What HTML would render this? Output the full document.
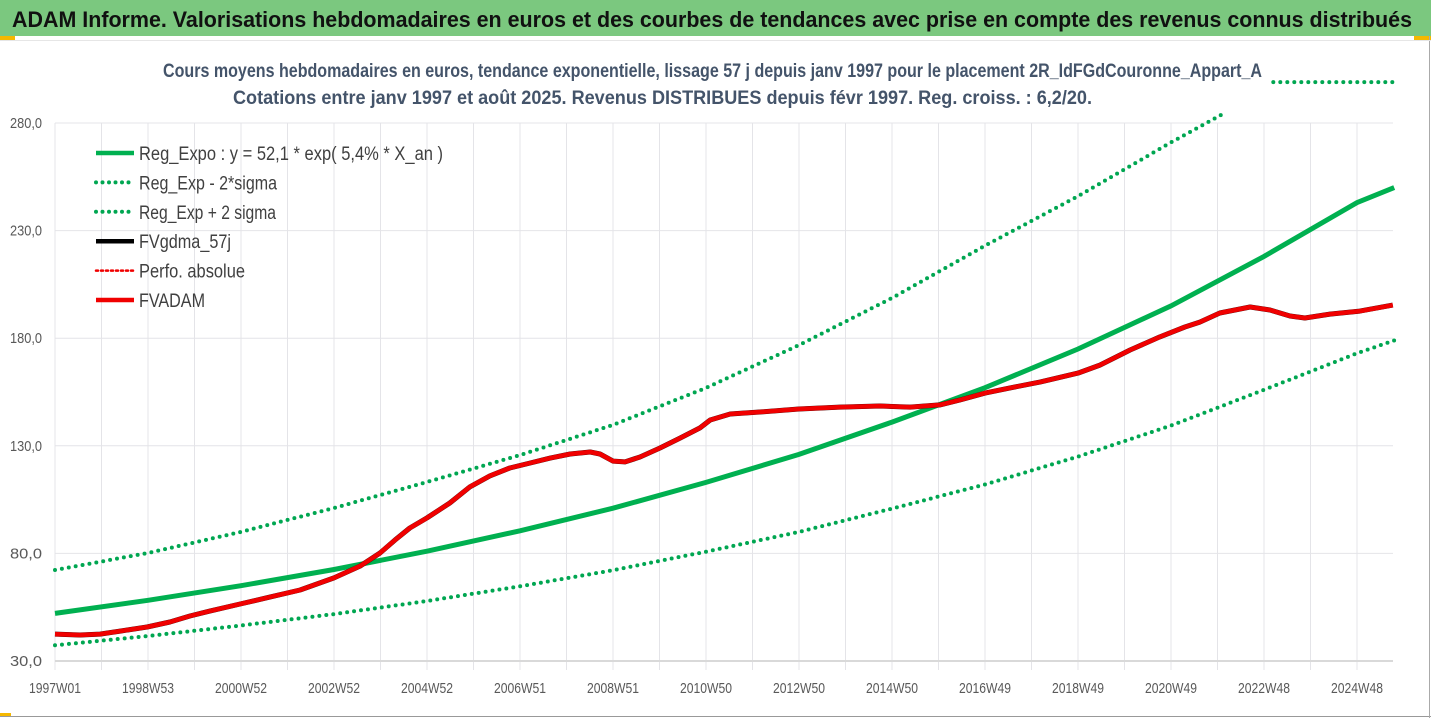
<!DOCTYPE html>
<html><head><meta charset="utf-8"><style>
body{margin:0;background:#fff;}
svg{display:block;font-family:"Liberation Sans Narrow","Liberation Sans",sans-serif;}
</style></head><body>
<svg id="chart" width="1431" height="718" viewBox="0 0 1431 718">
<rect x="0" y="0" width="1431" height="718" fill="#fff"/>
<rect x="0" y="0" width="1431" height="36" fill="#7bc87f"/>
<rect x="0" y="36" width="15" height="4" fill="#f5b800"/>
<rect x="1414" y="36" width="17" height="4" fill="#f5b800"/>
<rect x="0" y="713" width="11" height="4" fill="#f5b800"/>
<line x1="0" y1="716.5" x2="1431" y2="716.5" stroke="#999"/>
<line x1="1429.5" y1="36" x2="1429.5" y2="718" stroke="#aaa"/>
<line x1="0" y1="40.5" x2="1431" y2="40.5" stroke="#e6e6e6"/>
<text x="12" y="27" font-size="22" font-weight="bold" fill="#111" textLength="1400" lengthAdjust="spacingAndGlyphs">ADAM Informe. Valorisations hebdomadaires en euros et des courbes de tendances avec prise en compte des revenus connus distribués</text>
<text x="163" y="77" font-size="19" font-weight="bold" fill="#44546a" textLength="1099" lengthAdjust="spacingAndGlyphs">Cours moyens hebdomadaires en euros, tendance exponentielle, lissage 57 j depuis janv 1997  pour le placement 2R_IdFGdCouronne_Appart_A</text>
<text x="233" y="104" font-size="19" font-weight="bold" fill="#44546a" textLength="859" lengthAdjust="spacingAndGlyphs">Cotations entre janv 1997 et août 2025. Revenus DISTRIBUES depuis févr 1997. Reg. croiss. : 6,2/20.</text>
<g id="grid"></g>
<g id="axes"></g>
<g id="series"></g>
<g id="legend"></g>
</svg>
<script>
const xTickLabels = ["1997W01","1998W53","2000W52","2002W52","2004W52","2006W51","2008W51","2010W50","2012W50","2014W50","2016W49","2018W49","2020W49","2022W48","2024W48"];
const yTicks = [30,80,130,180,230,280];
const yTickLabels = ["30,0","80,0","130,0","180,0","230,0","280,0"];

const regYears = [1997,1999,2001,2003,2005,2007,2009,2011,2013,2015,2017,2019,2021,2023,2025,2025.8];
const regValues = [52.1,58.2,65,72.5,81,90.5,101,113,126,141,157,175,195,218,243,250];
const lowValues = [37.3,41.6,46.5,51.8,57.9,64.7,72.2,80.8,90,100.8,112,125,139.4,156,173,179];
const upYears = [1997,1999,2001,2003,2005,2007,2009,2011,2013,2015,2017,2019,2021,2022.1,null,2023.2,2025.8];
const upValues = [72.3,80.2,90,101.1,113.2,125.7,139.7,156.9,176.8,198.7,223,246,271,284,null,299,299];
const fvYears = [1997,1997.54,1997.97,1998.4,1998.98,1999.47,1999.9,2000.33,2000.98,2001.62,2002.27,2003,2003.56,2003.99,2004.31,2004.63,2005,2005.49,2005.92,2006.35,2006.78,2007.22,2007.65,2008.08,2008.51,2008.72,2009,2009.26,2009.58,2010.01,2010.44,2010.87,2011.09,2011.52,2012.16,2013,2013.88,2014.74,2015.39,2016.03,2016.46,2017,2017.54,2018.18,2019,2019.47,2020.12,2020.76,2021.3,2021.62,2022.05,2022.7,2023.13,2023.56,2023.88,2024.42,2025.06,2025.77];
const fvValues = [42.5,42.1,42.5,43.9,45.8,48.1,50.9,53.2,56.5,59.7,63,68.6,74.1,80.2,86.2,91.8,96.5,103.4,110.9,116,119.7,122,124.3,126.2,127.1,126.2,122.9,122.5,124.8,129,133.6,138.3,142,144.8,145.7,147.1,148,148.5,148,149,151.3,154.5,156.9,159.6,163.8,167.5,174.5,180.6,185.2,187.5,191.7,194.5,193.1,190.3,189.4,191.2,192.6,195.4];

const NS="http://www.w3.org/2000/svg";
const X0=55, PX_PER_YEAR=46.5, Y0=661, PX_PER_UNIT=107.6/50;
function xOf(yr){return X0+(yr-1997)*PX_PER_YEAR;}
function yOf(v){return Y0-(v-30)*PX_PER_UNIT;}
function mk(tag,attrs,parent){const e=document.createElementNS(NS,tag);for(const k in attrs)e.setAttribute(k,attrs[k]);parent.appendChild(e);return e;}
const grid=document.getElementById('grid'), axes=document.getElementById('axes'), series=document.getElementById('series'), legend=document.getElementById('legend');

for(let yr=1997;yr<=2025;yr++){
  const l=mk('line',{x1:xOf(yr),x2:xOf(yr),y1:yOf(280),y2:670,stroke:'#e4e4e8','stroke-width':1},grid);
  
  
}
yTicks.forEach((v,i)=>{
  const l=mk('line',{x1:X0,x2:1393,y1:yOf(v),y2:yOf(v),stroke:i===0?'#d9d9d9':'#e4e4e8','stroke-width':i===0?2:1},grid);
  
  
  const t=mk('text',{x:42,y:yOf(v)+5,'text-anchor':'end','font-size':15,fill:'#595959',textLength:32,lengthAdjust:'spacingAndGlyphs'},axes);
  t.textContent=yTickLabels[i];
  
  
});
xTickLabels.forEach((s,i)=>{
  const t=mk('text',{x:xOf(1997+2*i),y:693,'text-anchor':'middle','font-size':15,fill:'#595959',textLength:52,lengthAdjust:'spacingAndGlyphs'},axes);
  t.textContent=s;
  
  
});

function pathFrom(xs,vs){let d='',pen=false;for(let i=0;i<xs.length;i++){if(xs[i]===null){pen=false;continue;}d+=(pen?'L':'M')+xOf(xs[i]).toFixed(1)+','+yOf(vs[i]).toFixed(1);pen=true;}return d;}
const dot={'stroke-dasharray':'0 7','stroke-linecap':'round'};
let p;
p=mk('path',Object.assign({d:pathFrom(regYears,lowValues),fill:'none',stroke:'#00a651','stroke-width':4},dot),series);


p=mk('path',Object.assign({d:pathFrom(upYears,upValues),fill:'none',stroke:'#00a651','stroke-width':4},dot),series);


p=mk('path',{d:pathFrom(regYears,regValues),fill:'none',stroke:'#00b050','stroke-width':5},series);


p=mk('path',{d:pathFrom(fvYears,fvValues),fill:'none',stroke:'#300','stroke-width':5,'stroke-linejoin':'round'},series);


p=mk('path',{d:pathFrom(fvYears,fvValues),fill:'none',stroke:'#f00000','stroke-width':4.5,'stroke-linejoin':'round'},series);



const legendNames=["Reg_Expo : y = 52,1 * exp( 5,4% *  X_an )","Reg_Exp - 2*sigma","Reg_Exp + 2 sigma","FVgdma_57j","Perfo. absolue","FVADAM"];
const legendWidths=[304,138,137,92,106,66];
const legendColors=['#00b050','#00a651','#00a651','#000','#f00000','#f00000'];
const legendDotted=[false,true,true,false,true,false];
legendNames.forEach((n,i)=>{
  const y=153+i*29.4;
  const a={x1:96,x2:134,y1:y,y2:y,stroke:legendColors[i],'stroke-width':legendDotted[i]?(i===4?2.5:4):4.5};
  if(legendDotted[i]){a['stroke-dasharray']=i===4?'2 3':'0 6.5';a['stroke-linecap']='round';}
  const l=mk('line',a,legend);
  
  
  const t=mk('text',{x:139,y:y+7,'font-size':19,fill:'#404040',textLength:legendWidths[i],lengthAdjust:'spacingAndGlyphs'},legend);
  t.textContent=n;
  
  
});
</script>
</body></html>
